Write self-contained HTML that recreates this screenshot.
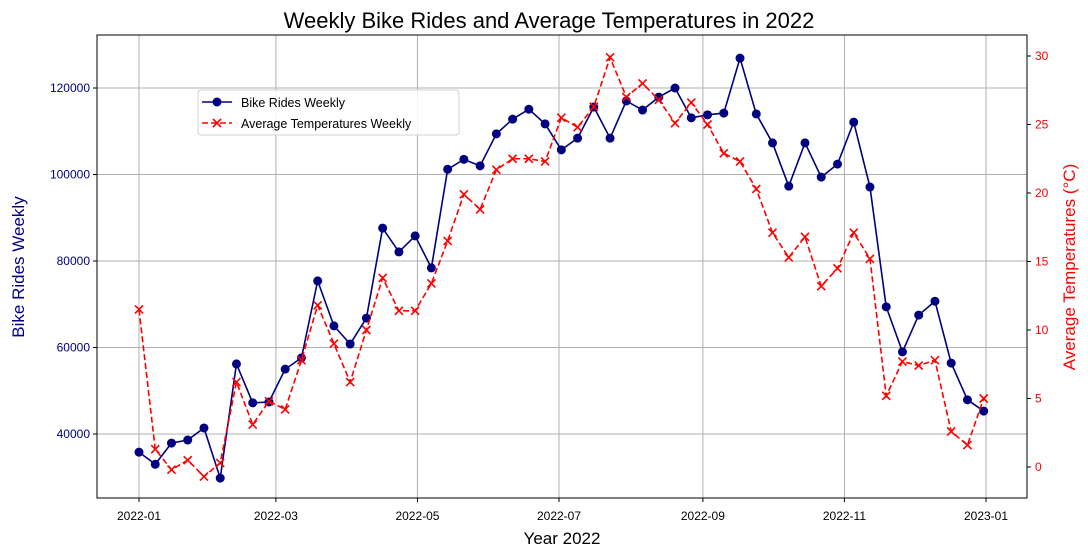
<!DOCTYPE html>
<html><head><meta charset="utf-8"><style>
body{margin:0;background:#fff;}
svg{display:block;font-family:"Liberation Sans","DejaVu Sans",sans-serif;}
</style></head><body>
<svg id="chart" width="1088" height="557" xmlns="http://www.w3.org/2000/svg"></svg>
<script>
const xTickLabels=["2022-01","2022-03","2022-05","2022-07","2022-09","2022-11","2023-01"];
const xTickDays=[0,59,120,181,243,304,365];
const leftTicks=[40000,60000,80000,100000,120000];
const rightTicks=[0,5,10,15,20,25,30];
const rides=[35800,33000,37900,38600,41400,29800,56200,47200,47400,55000,57600,75400,65000,60800,66800,87600,82100,85800,78400,101200,103500,102000,109400,112800,115100,111700,105700,108400,115600,108400,117000,114900,117900,120000,113100,113800,114200,126900,114000,107300,97300,107300,99400,102400,112100,97100,69400,59000,67500,70700,56400,47900,45300];
const temps=[11.5,1.3,-0.2,0.5,-0.7,0.3,6.2,3.1,4.8,4.2,7.8,11.8,9.0,6.2,10.0,13.8,11.4,11.4,13.4,16.5,19.9,18.8,21.7,22.5,22.5,22.3,25.5,24.8,26.3,29.9,27.0,28.0,26.8,25.1,26.6,25.0,22.9,22.3,20.3,17.1,15.3,16.8,13.2,14.5,17.1,15.2,5.2,7.7,7.4,7.8,2.6,1.6,5.0];

const L=97,R=1027,T=35,B=498;
const x=d=>139+d*(986-139)/365;
const yl=v=>88+(120000-v)*346/80000;
const yr=v=>467-v*(467-56)/30;
const NS="http://www.w3.org/2000/svg";
const svg=document.getElementById('chart');
function el(tag,attrs,parent){const e=document.createElementNS(NS,tag);for(const k in attrs)e.setAttribute(k,attrs[k]);(parent||svg).appendChild(e);return e;}
function txt(s,attrs){const e=el('text',attrs);e.textContent=s;return e;}

const grid=el('g',{});


xTickDays.forEach((d,i)=>{
  el('line',{x1:x(d),x2:x(d),y1:T,y2:B,stroke:'#b0b0b0','stroke-width':1},grid);
  el('line',{x1:x(d),x2:x(d),y1:B,y2:B+4,stroke:'#000'});
  const t=txt(xTickLabels[i],{x:x(d),y:B+22,'text-anchor':'middle','font-size':12,fill:'#000'});
  
  
});
leftTicks.forEach(v=>{
  el('line',{x1:L,x2:R,y1:yl(v),y2:yl(v),stroke:'#b0b0b0','stroke-width':1},grid);
  el('line',{x1:L-4,x2:L,y1:yl(v),y2:yl(v),stroke:'#000'});
  const t=txt(String(v),{x:L-7,y:yl(v)+4,'text-anchor':'end','font-size':12,fill:'#000080'});
  
  
});
rightTicks.forEach(v=>{
  el('line',{x1:R,x2:R+4,y1:yr(v),y2:yr(v),stroke:'#000'});
  const t=txt(String(v),{x:R+8,y:yr(v)+4,'text-anchor':'start','font-size':12,fill:'#ff0000'});
  
  
});

const days=rides.map((_,i)=>7*i);
const rl=el('polyline',{points:rides.map((v,i)=>x(days[i])+','+yl(v)).join(' '),fill:'none',stroke:'#000080','stroke-width':1.6});


rides.forEach((v,i)=>{
  const c=el('circle',{cx:x(days[i]),cy:yl(v),r:4.5,fill:'#000080'});
  
  
});
const tl=el('polyline',{points:temps.map((v,i)=>x(days[i])+','+yr(v)).join(' '),fill:'none',stroke:'#ff0000','stroke-width':1.6,'stroke-dasharray':'6,3'});


temps.forEach((v,i)=>{
  const cx=x(days[i]),cy=yr(v);
  const m=el('path',{d:`M${cx-4},${cy-4}L${cx+4},${cy+4}M${cx-4},${cy+4}L${cx+4},${cy-4}`,stroke:'#ff0000','stroke-width':1.6});
  
  
});

const frame=el('rect',{x:L,y:T,width:R-L,height:B-T,fill:'none',stroke:'#000','stroke-width':1});



const title=txt('Weekly Bike Rides and Average Temperatures in 2022',{x:549,y:28,'text-anchor':'middle','font-size':22,fill:'#000'});


const xl=txt('Year 2022',{x:562,y:544,'text-anchor':'middle','font-size':17,fill:'#000'});


const ylt=txt('Bike Rides Weekly',{x:0,y:0,'text-anchor':'middle','font-size':17,fill:'#000080',transform:'translate(24,267) rotate(-90)'});


const yrt=txt('Average Temperatures (°C)',{x:0,y:0,'text-anchor':'middle','font-size':17,fill:'#ff0000',transform:'translate(1075,267) rotate(-90)'});



const lg=el('g',{});


el('rect',{x:198,y:90,width:261,height:45,rx:3,fill:'#fff','fill-opacity':0.85,stroke:'#d0d0d0'},lg);
el('line',{x1:202,x2:232,y1:102,y2:102,stroke:'#000080','stroke-width':1.6},lg);
el('circle',{cx:217,cy:102,r:4.5,fill:'#000080'},lg);
const l1=el('text',{x:241,y:107,'font-size':12.5,fill:'#000'},lg);l1.textContent='Bike Rides Weekly';


el('line',{x1:202,x2:232,y1:123,y2:123,stroke:'#ff0000','stroke-width':1.6,'stroke-dasharray':'6,3'},lg);
el('path',{d:'M213,119L221,127M213,127L221,119',stroke:'#ff0000','stroke-width':1.6},lg);
const l2=el('text',{x:241,y:128,'font-size':12.5,fill:'#000'},lg);l2.textContent='Average Temperatures Weekly';


</script>
</body></html>
